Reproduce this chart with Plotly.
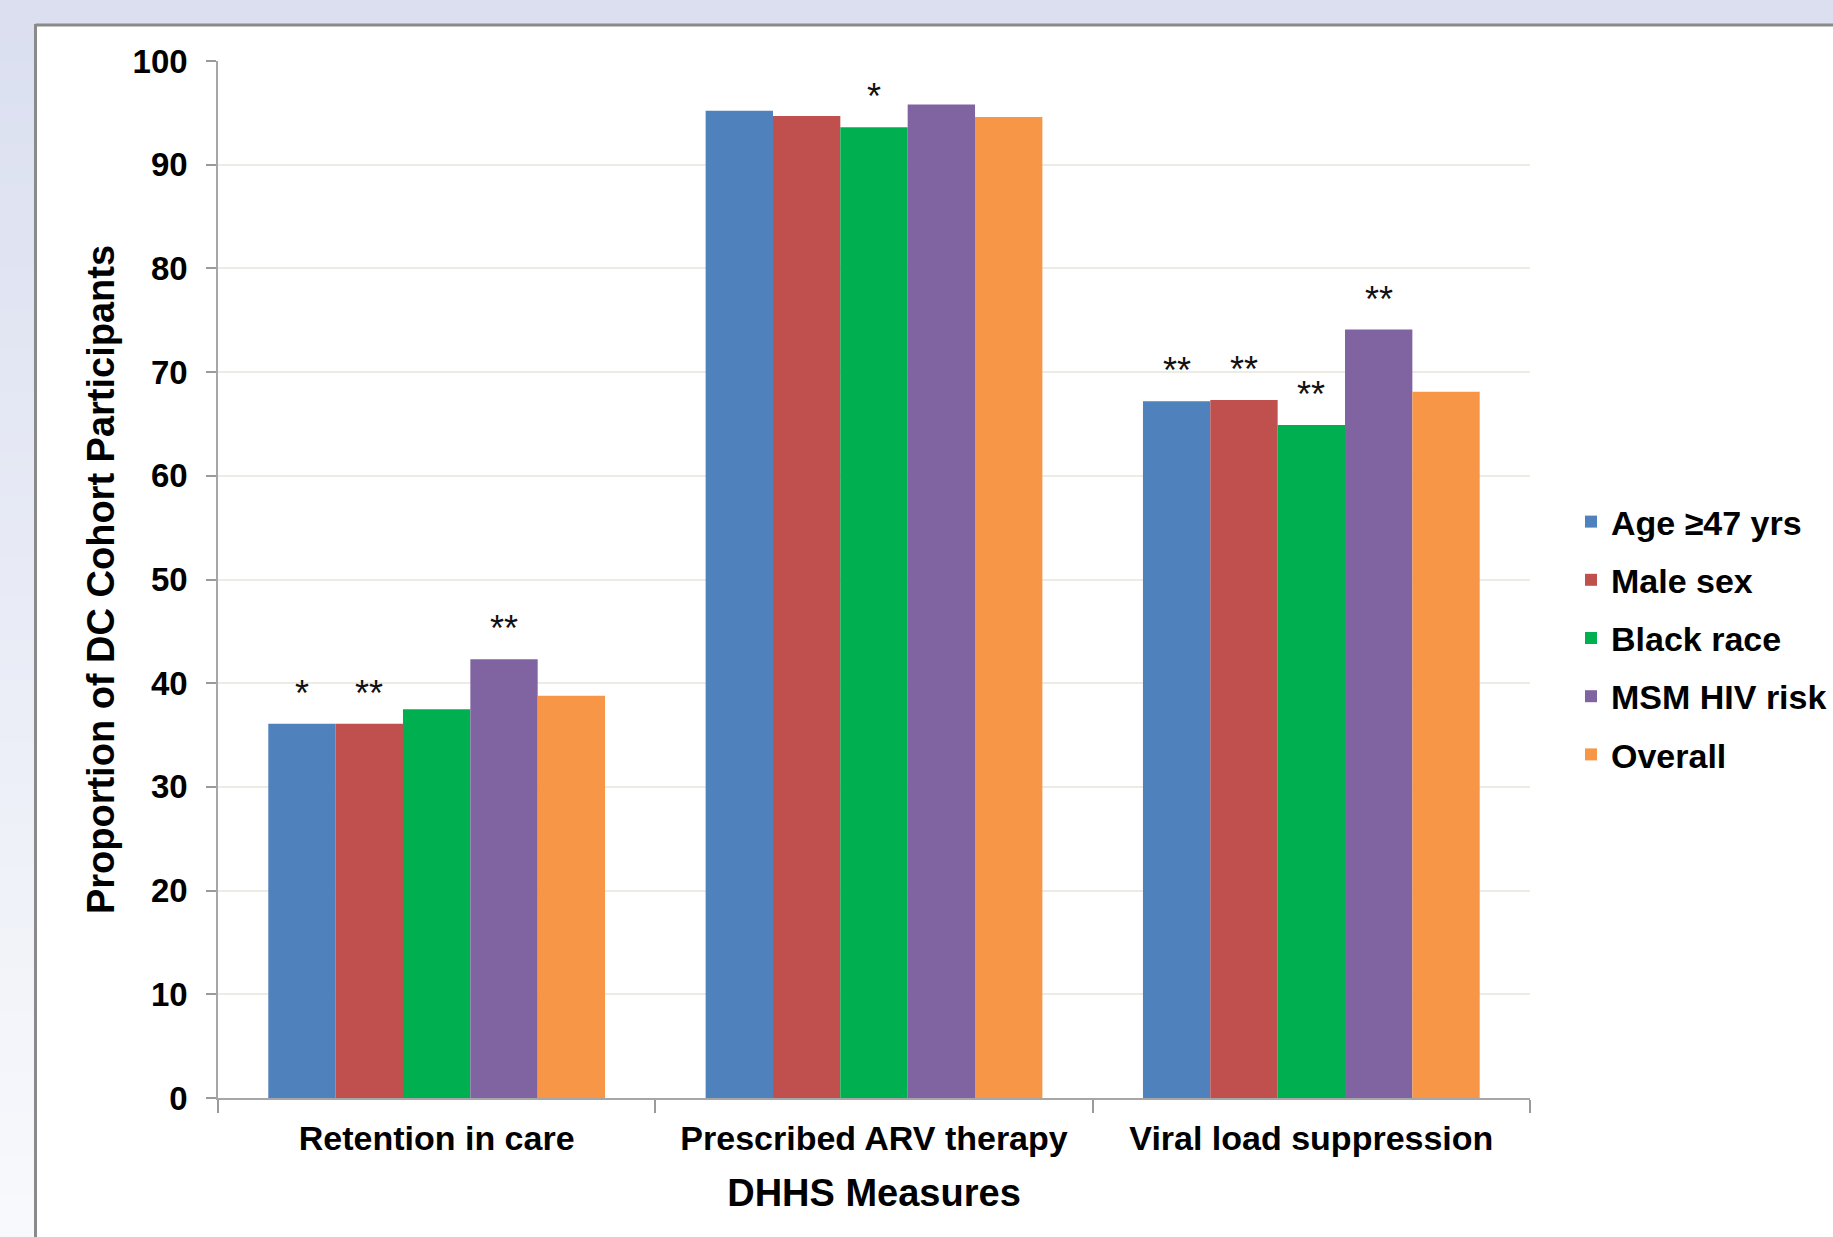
import plotly.graph_objects as go

# ---- data -------------------------------------------------------------
categories = ["Retention in care", "Prescribed ARV therapy", "Viral load suppression"]
series_names = ["Age \u226547 yrs", "Male sex", "Black race", "MSM HIV risk", "Overall"]
age_47 = [36.1, 95.2, 67.2]
male_sex = [36.1, 94.7, 67.3]
black_race = [37.5, 93.6, 64.9]
msm_risk = [42.3, 95.8, 74.1]
overall = [38.8, 94.6, 68.1]
series_values = [age_47, male_sex, black_race, msm_risk, overall]

# significance markers per series (one entry per category)
age_sig = ["*", "", "**"]
male_sig = ["**", "", "**"]
black_sig = ["", "*", "**"]
msm_sig = ["**", "", "**"]
overall_sig = ["", "", ""]
series_sig = [age_sig, male_sig, black_sig, msm_sig, overall_sig]

y_ticks = [0, 10, 20, 30, 40, 50, 60, 70, 80, 90, 100]

colors = ["#4f81bd", "#c0504d", "#00b050", "#8064a2", "#f79646"]

# ---- geometry ---------------------------------------------------------
W, H = 1833, 1237
ML, MR, MT, MB = 218, 303, 61, 139
PW, PH = W - ML - MR, H - MT - MB
BARGAP = 0.23
n_series = len(series_names)
bar_w = (1 - BARGAP) / n_series


def px_x(p):
    return (p - ML) / PW


def px_y(p):
    return 1 - (p - MT) / PH


FONT = "Arial, Liberation Sans, sans-serif"

fig = go.Figure()
for i, (name, vals) in enumerate(zip(series_names, series_values)):
    fig.add_trace(go.Bar(
        name=name,
        x=categories,
        y=vals,
        marker=dict(color=colors[i], line=dict(width=0)),
        legendgroup=name,
    ))

# significance asterisks above bars
annotations = []
for i, (vals, sig) in enumerate(zip(series_values, series_sig)):
    for c, (v, s) in enumerate(zip(vals, sig)):
        if not s:
            continue
        annotations.append(dict(
            x=c + (i - (n_series - 1) / 2) * bar_w, y=v,
            xref="x", yref="y", text=s, showarrow=False,
            yanchor="bottom", yshift=8,
            font=dict(family=FONT, size=36, color="#111111"),
        ))

# slide background: lavender banner/strip and white framed panel
shapes = []
n_bands = 60
top_rgb = (218, 223, 240)
bot_rgb = (248, 249, 252)
for k in range(n_bands):
    t = k / (n_bands - 1)
    r, g, b = [round(a + (bb - a) * t) for a, bb in zip(top_rgb, bot_rgb)]
    y0 = k * H / n_bands
    y1 = (k + 1) * H / n_bands + 1
    shapes.append(dict(type="rect", xref="paper", yref="paper", layer="below",
                       x0=px_x(0), x1=px_x(35), y0=px_y(y0), y1=px_y(y1),
                       fillcolor=f"rgb({r},{g},{b})", line=dict(width=0)))
shapes.append(dict(type="rect", xref="paper", yref="paper", layer="below",
                   x0=px_x(0), x1=px_x(W), y0=px_y(0), y1=px_y(24),
                   fillcolor="#dcdff0", line=dict(width=0)))
shapes.append(dict(type="rect", xref="paper", yref="paper", layer="below",
                   x0=px_x(35), x1=px_x(W + 5), y0=px_y(25), y1=px_y(H + 5),
                   fillcolor="#ffffff", line=dict(width=0)))
shapes.append(dict(type="line", xref="paper", yref="paper", layer="below",
                   x0=px_x(35.5), x1=px_x(W + 5), y0=px_y(25), y1=px_y(25),
                   line=dict(color="#8a8a8a", width=3)))
shapes.append(dict(type="line", xref="paper", yref="paper", layer="below",
                   x0=px_x(35.5), x1=px_x(35.5), y0=px_y(24), y1=px_y(H + 5),
                   line=dict(color="#8a8a8a", width=3)))

fig.update_layout(
    width=W, height=H,
    margin=dict(l=ML, r=MR, t=MT, b=MB, autoexpand=False),
    paper_bgcolor="#dcdff0",
    plot_bgcolor="#ffffff",
    barmode="group", bargap=BARGAP, bargroupgap=0,
    font=dict(family=FONT, color="#000000"),
    shapes=shapes,
    annotations=annotations,
    showlegend=True,
    legend=dict(
        x=px_x(1571), y=px_y(638), xanchor="left", yanchor="middle",
        xref="paper", yref="paper",
        traceorder="grouped", tracegroupgap=11,
        font=dict(family=FONT, size=34, weight="bold", color="#000000"),
        bgcolor="rgba(0,0,0,0)", itemwidth=30,
    ),
    xaxis=dict(
        type="category",
        categoryorder="array", categoryarray=categories,
        range=[-0.5, len(categories) - 0.5],
        tickson="boundaries",
        ticks="outside", ticklen=13, tickcolor="#9a9a9a", tickwidth=1.5,
        showline=True, linecolor="#a6a6a6", linewidth=1.5,
        showgrid=False, zeroline=False,
        ticklabelstandoff=9,
        tickfont=dict(family=FONT, size=34, weight="bold", color="#000000"),
        title=dict(text="DHHS Measures", standoff=24,
                   font=dict(family=FONT, size=38, weight="bold", color="#000000")),
    ),
    yaxis=dict(
        range=[0, 100],
        tickvals=y_ticks,
        ticks="outside", ticklen=10, tickcolor="#9a9a9a", tickwidth=1.5,
        showline=True, linecolor="#a6a6a6", linewidth=1.5,
        showgrid=True, gridcolor="#eeebe3", gridwidth=1.5,
        zeroline=False,
        ticklabelstandoff=12,
        tickfont=dict(family=FONT, size=33, weight="bold", color="#000000"),
        title=dict(text="Proportion of DC Cohort Participants", standoff=6,
                   font=dict(family=FONT, size=38, weight="bold", color="#000000")),
    ),
)

fig.write_html("out.html")
